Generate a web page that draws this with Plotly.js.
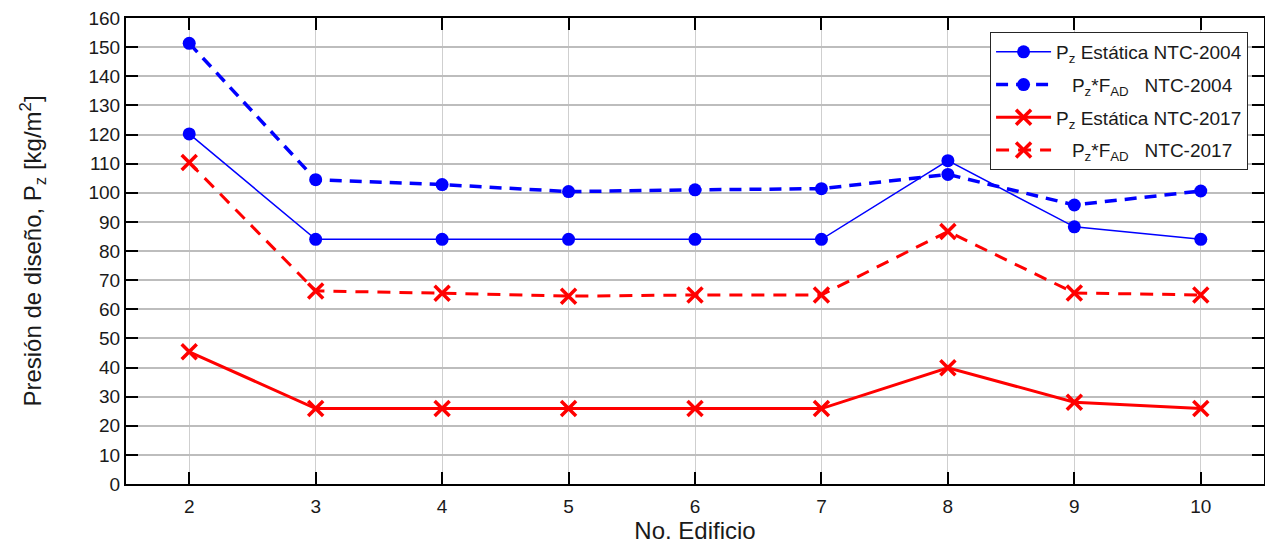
<!DOCTYPE html>
<html>
<head>
<meta charset="utf-8">
<script src="https://cdn.plot.ly/plotly-3.0.1.min.js"></script>
<style>html,body{margin:0;padding:0;background:#fff;}#chart{width:1265px;height:544px;}</style>
</head>
<body>
<div id="chart"></div>
<script>
const edificios = [2, 3, 4, 5, 6, 7, 8, 9, 10];
const pzEstatica2004 = [120.2, 84, 84, 84, 84, 84, 111, 88.3, 84];
const pzFad2004 = [151.3, 104.5, 102.8, 100.4, 101, 101.4, 106.3, 95.8, 100.6];
const pzEstatica2017 = [45.4, 25.9, 25.9, 25.9, 25.9, 25.9, 39.9, 28.1, 25.9];
const pzFad2017 = [110.4, 66.3, 65.5, 64.5, 64.9, 64.9, 86.7, 65.6, 64.9];
const seriesNames = [
  'P<sub>z</sub> Estática NTC-2004',
  '   P<sub>z</sub>*F<sub>AD</sub>   NTC-2004',
  'P<sub>z</sub> Estática NTC-2017',
  '   P<sub>z</sub>*F<sub>AD</sub>   NTC-2017'
];
const yTicks = [0,10,20,30,40,50,60,70,80,90,100,110,120,130,140,150,160];

const blue = '#0000ff', red = '#ff0000';
const traces = [
  {x: edificios, y: pzEstatica2004, name: seriesNames[0], legendgroup: 'a', mode: 'lines+markers',
   line: {color: blue, width: 1.5}, marker: {symbol: 'circle', size: 13, color: blue}},
  {x: edificios, y: pzFad2004, name: seriesNames[1], legendgroup: 'b', mode: 'lines+markers',
   line: {color: blue, width: 3.5, dash: '12px,8px'}, marker: {symbol: 'circle', size: 13, color: blue}},
  {x: edificios, y: pzEstatica2017, name: seriesNames[2], legendgroup: 'c', mode: 'lines+markers',
   line: {color: red, width: 3}, marker: {symbol: 'x-thin-open', size: 15, color: red, line: {color: red, width: 3.5}}},
  {x: edificios, y: pzFad2017, name: seriesNames[3], legendgroup: 'd', mode: 'lines+markers',
   line: {color: red, width: 3, dash: '13px,9px'}, marker: {symbol: 'x-thin-open', size: 15, color: red, line: {color: red, width: 3.5}}}
];

const layout = {
  width: 1265, height: 544,
  margin: {l: 126, r: 1, t: 18, b: 60},
  paper_bgcolor: '#fff', plot_bgcolor: '#fff',
  font: {family: 'Liberation Sans, Arial, sans-serif', size: 19, color: '#1a1a1a'},
  showlegend: true,
  legend: {
    x: 0.986, xanchor: 'right', y: 0.97, yanchor: 'top',
    bgcolor: '#fff', bordercolor: '#262626', borderwidth: 1,
    font: {size: 19, color: '#1a1a1a'}, itemwidth: 55, tracegroupgap: 5
  },
  xaxis: {
    range: [1.5, 10.5], tickvals: edificios, ticktext: edificios.map(String),
    ticks: 'inside', ticklen: 12, tickwidth: 2, tickcolor: '#000',
    showline: true, linecolor: '#000', linewidth: 2, mirror: 'ticks',
    showgrid: true, gridcolor: '#cfcfcf', gridwidth: 1, zeroline: false,
    tickfont: {size: 19}, ticklabelstandoff: 4,
    title: {text: 'No. Edificio', font: {size: 24}, standoff: 4}
  },
  yaxis: {
    range: [0, 160], tickvals: yTicks,
    ticks: 'inside', ticklen: 12, tickwidth: 2, tickcolor: '#000',
    showline: true, linecolor: '#000', linewidth: 2, mirror: 'ticks',
    showgrid: true, gridcolor: '#bdbdbd', gridwidth: 2, zeroline: false,
    tickfont: {size: 19},
    title: {text: 'Presión de diseño, P<sub>z</sub> [kg/m<sup>2</sup>]', font: {size: 24}, standoff: 40}
  }
};
Plotly.newPlot('chart', traces, layout, {displayModeBar: false, staticPlot: true});
</script>
</body>
</html>
